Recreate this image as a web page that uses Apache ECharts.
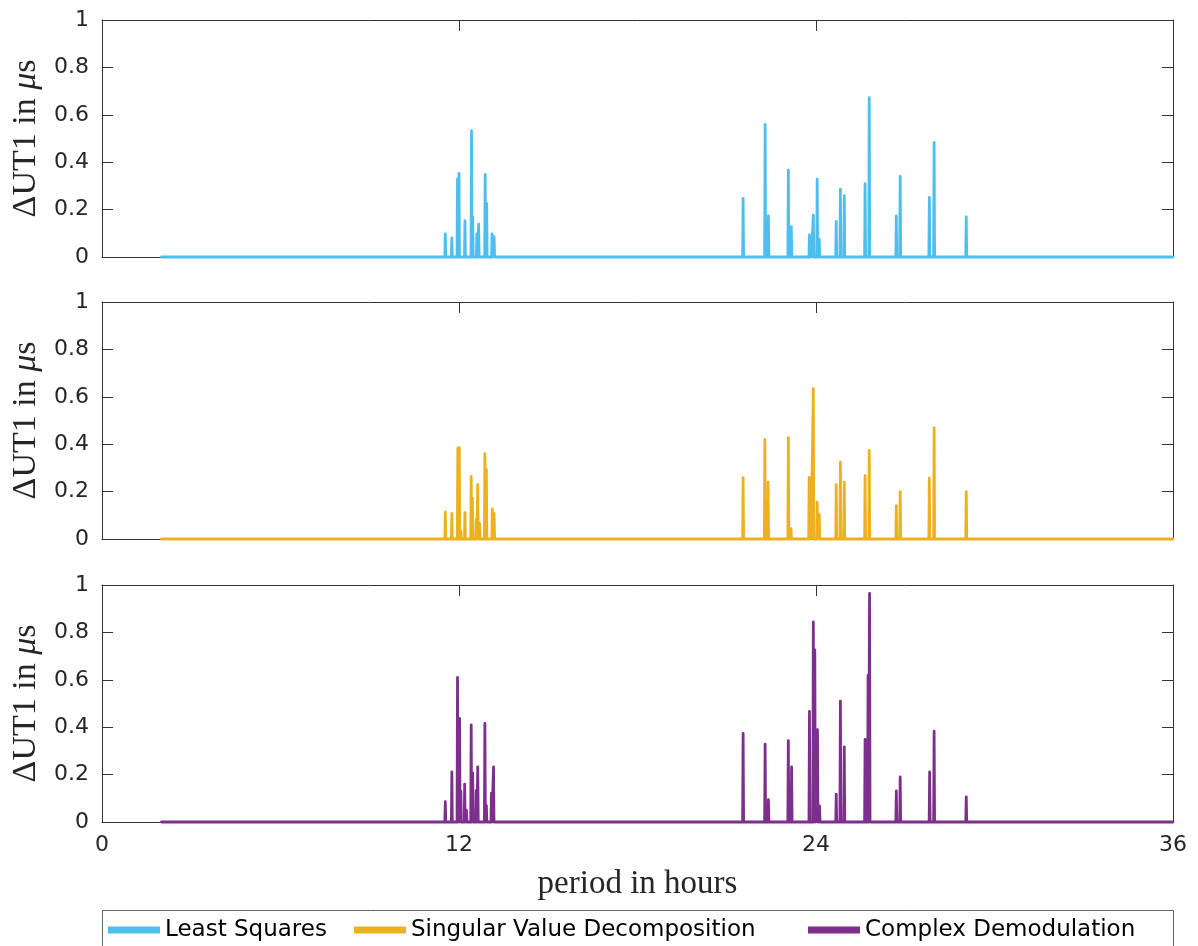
<!DOCTYPE html>
<html>
<head>
<meta charset="utf-8">
<script src="https://cdn.jsdelivr.net/npm/echarts@6/dist/echarts.min.js"></script>
<style>
  html, body { margin: 0; padding: 0; background: #fff; }
  #chart { width: 1198px; height: 946px; }
</style>
</head>
<body>
<div id="chart"></div>
<script>
// period (hours), amplitude (µs)
const lsPeaks = [
  [11.54, 0.097], [11.76, 0.081], [11.95, 0.33], [12.0, 0.353], [12.2, 0.153], [12.42, 0.533], [12.46, 0.17],
  [12.6, 0.097], [12.66, 0.139], [12.88, 0.349], [12.93, 0.226], [13.11, 0.097], [13.18, 0.086],
  [21.55, 0.247], [22.29, 0.56], [22.4, 0.174], [23.07, 0.366], [23.17, 0.128], [23.78, 0.093], [23.83, 0.079],
  [23.91, 0.178], [24.04, 0.328], [24.11, 0.075], [24.68, 0.15], [24.82, 0.286], [24.95, 0.259], [25.65, 0.309],
  [25.79, 0.672], [26.7, 0.173], [26.83, 0.34], [27.81, 0.252], [27.97, 0.484], [29.05, 0.169]
]
const svdPeaks = [
  [11.54, 0.114], [11.76, 0.108], [11.96, 0.383], [12.01, 0.385], [12.06, 0.034], [12.2, 0.111], [12.41, 0.264],
  [12.45, 0.172], [12.58, 0.083], [12.63, 0.229], [12.69, 0.066], [12.87, 0.36], [12.92, 0.294], [13.12, 0.127],
  [13.18, 0.108],
  [21.55, 0.259], [22.28, 0.42], [22.39, 0.24], [23.07, 0.428], [23.16, 0.044], [23.77, 0.26], [23.82, 0.083],
  [23.91, 0.634], [24.04, 0.155], [24.11, 0.104], [24.68, 0.229], [24.82, 0.325], [24.95, 0.24], [25.65, 0.267],
  [25.79, 0.374], [26.7, 0.141], [26.83, 0.2], [27.81, 0.257], [27.97, 0.47], [29.05, 0.2]
]
const cdPeaks = [
  [11.54, 0.086], [11.76, 0.211], [11.95, 0.61], [12.02, 0.437], [12.06, 0.13], [12.19, 0.16], [12.25, 0.05],
  [12.41, 0.41], [12.46, 0.207], [12.58, 0.133], [12.63, 0.233], [12.87, 0.416], [12.92, 0.07], [13.09, 0.122],
  [13.16, 0.232],
  [21.55, 0.374], [22.29, 0.328], [22.4, 0.094], [23.07, 0.343], [23.18, 0.232], [23.78, 0.467], [23.91, 0.844],
  [23.96, 0.726], [24.05, 0.39], [24.12, 0.068], [24.68, 0.118], [24.82, 0.51], [24.95, 0.317], [25.65, 0.348],
  [25.75, 0.62], [25.8, 0.965], [26.7, 0.131], [26.83, 0.19], [27.82, 0.211], [27.97, 0.383], [29.05, 0.106]
]
const seriesNames = ['Least Squares', 'Singular Value Decomposition', 'Complex Demodulation']
const seriesColors = ['#4DBEEE', '#EDB120', '#7E2F8E']
const periodStart = 2
const periodEnd = 36

// baseline with narrow spikes at each peak
function spectrum(peaks) {
  const hw = 0.016
  const pts = [[periodStart, 0]]
  peaks.slice().sort((a, b) => a[0] - b[0]).forEach(([p, a]) => {
    pts.push([p - hw, 0], [p, a], [p + hw, 0])
  })
  pts.push([periodEnd, 0])
  return pts
}

const axisColor = '#333'
const textColor = '#262626'
const tickFont = { color: textColor, fontSize: 22, fontFamily: 'DejaVu Sans' }
const panelTops = [20, 302, 585]
const panelH = 237

const grids = panelTops.map((t) => ({ left: 102, top: t, width: 1071, height: panelH }))
const xAxes = []
const yAxes = []
const lineStyle = { onZero: false, lineStyle: { color: axisColor, width: 1 } }
const tickStyle = { show: true, inside: true, length: 11, lineStyle: { color: axisColor } }
panelTops.forEach((t, i) => {
  const last = i === panelTops.length - 1
  xAxes.push({
    type: 'value', gridIndex: i, min: 0, max: 36, interval: 12, position: 'bottom',
    axisLine: lineStyle, axisTick: tickStyle,
    axisLabel: { show: last, margin: 12, ...tickFont },
    splitLine: { show: false },
    name: last ? 'period in hours' : '',
    nameLocation: 'middle', nameGap: 46,
    nameTextStyle: { fontFamily: 'Liberation Serif', fontSize: 33, color: textColor },
  })
  xAxes.push({
    type: 'value', gridIndex: i, min: 0, max: 36, interval: 12, position: 'top',
    axisLine: lineStyle, axisTick: tickStyle,
    axisLabel: { show: false }, splitLine: { show: false },
  })
  yAxes.push({
    type: 'value', gridIndex: i, min: 0, max: 1, interval: 0.2, position: 'left',
    axisLine: { show: true, ...lineStyle }, axisTick: tickStyle,
    axisLabel: { margin: 13, ...tickFont },
    splitLine: { show: false },
    name: 'ΔUT1 in {i|μ}s', nameLocation: 'middle', nameGap: 55,
    nameTextStyle: {
      fontFamily: 'Liberation Serif', fontSize: 34, color: textColor,
      rich: { i: { fontFamily: 'Liberation Serif', fontSize: 34, fontStyle: 'italic', color: textColor } },
    },
  })
  yAxes.push({
    type: 'value', gridIndex: i, min: 0, max: 1, interval: 0.2, position: 'right',
    axisLine: { show: true, ...lineStyle }, axisTick: tickStyle,
    axisLabel: { show: false }, splitLine: { show: false },
  })
})

const allPeaks = [lsPeaks, svdPeaks, cdPeaks]
const series = allPeaks.map((pk, i) => ({
  name: seriesNames[i],
  type: 'line',
  xAxisIndex: i * 2,
  yAxisIndex: i * 2,
  data: spectrum(pk),
  symbol: 'none',
  clip: false,
  animation: false,
  lineStyle: { color: seriesColors[i], width: 2.8, cap: 'round', join: 'round' },
  itemStyle: { color: seriesColors[i] },
}))

const legendLefts = [108, 354, 808]
const legends = seriesNames.map((n, i) => ({
  data: [n],
  left: legendLefts[i],
  top: 917,
  padding: 0,
  icon: 'rect',
  itemWidth: 52,
  itemHeight: 7,
  selectedMode: false,
  textStyle: { color: '#000', fontSize: 23, fontFamily: 'DejaVu Sans', lineHeight: 26 },
}))

const chart = echarts.init(document.getElementById('chart'), null, { renderer: 'canvas' })
chart.setOption({
  animation: false,
  backgroundColor: '#fff',
  grid: grids,
  xAxis: xAxes,
  yAxis: yAxes,
  legend: legends,
  series: series,
  graphic: [{
    type: 'rect', silent: true,
    shape: { x: 102.5, y: 910.5, width: 1071, height: 60 },
    style: { fill: 'none', stroke: '#666', lineWidth: 1 },
  }],
})
</script>
</body>
</html>
